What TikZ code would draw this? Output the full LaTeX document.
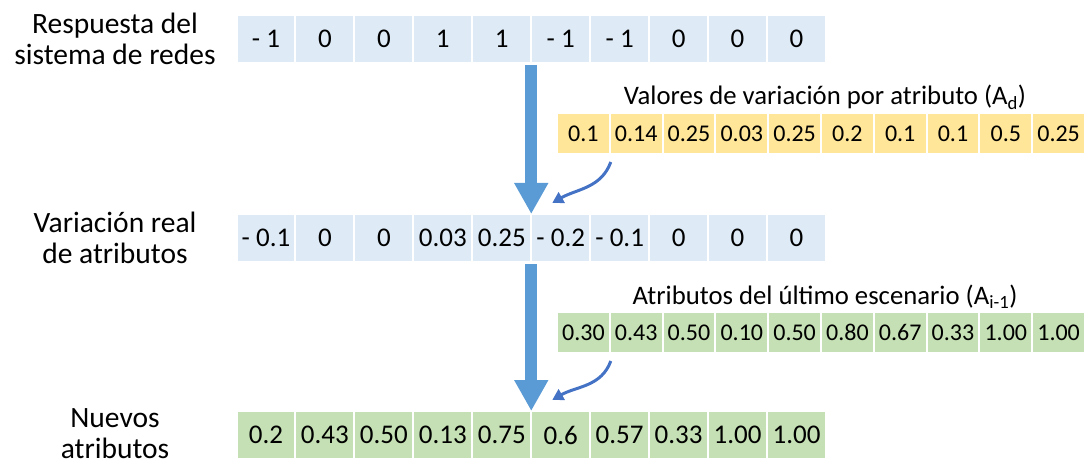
\documentclass[tikz,border=0pt]{standalone}
\usepackage{fontspec}
\setmainfont{Carlito}
\usetikzlibrary{arrows.meta,calc}
\definecolor{cellblue}{HTML}{DEEBF7}
\definecolor{cellgold}{HTML}{FFE699}
\definecolor{cellgreen}{HTML}{C5E0B4}
\definecolor{flowblue}{HTML}{5B9BD5}
\definecolor{linkblue}{HTML}{4472C4}
\tikzset{
  cellbase/.style={inner sep=0pt, outer sep=0pt, anchor=center},
  bigcell/.style={cellbase, minimum width=56.9pt, minimum height=46pt,
    font=\fontsize{27}{32}\selectfont},
  smallcell/.style={cellbase, minimum width=50.8pt, minimum height=39pt,
    font=\fontsize{24}{28}\selectfont},
  rowlabel/.style={inner sep=0pt, align=center, font=\fontsize{29.5}{31}\selectfont},
  rowtitle/.style={inner sep=0pt, anchor=base, font=\fontsize{26.7}{30}\selectfont},
  mainflow/.style={draw=flowblue, line width=12pt, -{Triangle[length=31pt,width=32pt]}},
  sideflow/.style={draw=linkblue, line width=3pt, -{Triangle[length=11pt,width=12pt]}}
}
\begin{document}
\begin{tikzpicture}[x=1pt,y=-1pt]
\useasboundingbox (0,0) rectangle (1092,465);

% main rows
\foreach \v [count=\i] in {- 1,0,0,1,1,- 1,- 1,0,0,0}
  \node[bigcell, fill=cellblue] (ra\i) at ({236.5+58.95*(\i-0.5)},39) {\v};
\foreach \v [count=\i] in {- 0.1,0,0,0.03,0.25,- 0.2,- 0.1,0,0,0}
  \node[bigcell, fill=cellblue] (rb\i) at ({236.5+58.95*(\i-0.5)},238) {\v};
\foreach \v [count=\i] in {0.2,0.43,0.50,0.13,0.75,0.6,0.57,0.33,1.00,1.00}
  \node[bigcell, fill=cellgreen] (rc\i) at ({236.5+58.95*(\i-0.5)},435) {\v};

% side rows
\foreach \v [count=\i] in {0.1,0.14,0.25,0.03,0.25,0.2,0.1,0.1,0.5,0.25}
  \node[smallcell, fill=cellgold] (ad\i) at ({557+52.8*(\i-0.5)},133.5) {\v};
\foreach \v [count=\i] in {0.30,0.43,0.50,0.10,0.50,0.80,0.67,0.33,1.00,1.00}
  \node[smallcell, fill=cellgreen] (ai\i) at ({557+52.8*(\i-0.5)},332.5) {\v};

% row labels
\node[rowlabel] (la) at (115,39) {Respuesta del\\sistema de redes};
\node[rowlabel] (lb) at (115,238) {Variación real\\de atributos};
\node[rowlabel] (lc) at (115,434) {Nuevos\\atributos};

% side row titles
\node[rowtitle] (tad) at (825,105) {Valores de variación por atributo (A\textsubscript{d})};
\node[rowtitle] (tai) at (825,304) {Atributos del último escenario (A\textsubscript{i-1})};

% main flow arrows
\coordinate (fa1) at ($(ra5.south east)!0.5!(ra6.south west)+(0,3)$);
\coordinate (fb1) at ($(rb5.north east)!0.5!(rb6.north west)+(0,-1)$);
\coordinate (fa2) at ($(rb5.south east)!0.5!(rb6.south west)+(0,3)$);
\coordinate (fb2) at ($(rc5.north east)!0.5!(rc6.north west)+(0,-1)$);
\draw[mainflow] (fa1) -- (fb1);
\draw[mainflow] (fa2) -- (fb2);

% side flow arrows
\coordinate (sa1) at ($(ad1.south east)!0.5!(ad2.south west)+(1,9)$);
\coordinate (sb1) at ($(rb5.north east)!0.5!(rb6.north west)+(21,-12)$);
\coordinate (sa2) at ($(ai1.south east)!0.5!(ai2.south west)+(1,9)$);
\coordinate (sb2) at ($(rc5.north east)!0.5!(rc6.north west)+(21,-12)$);
\draw[sideflow] (sa1) to[out=-110,in=30] (sb1);
\draw[sideflow] (sa2) to[out=-110,in=30] (sb2);
\end{tikzpicture}
\end{document}
